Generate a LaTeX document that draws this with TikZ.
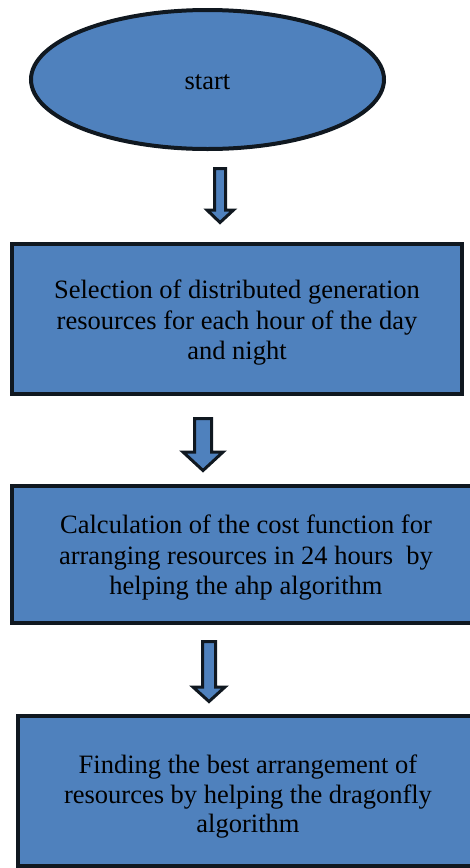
\documentclass[tikz,border=0pt]{standalone}
\usepackage{fontspec}
\setmainfont{Liberation Serif}
\usetikzlibrary{shapes.geometric}
\definecolor{fillblue}{HTML}{4F81BD}
\definecolor{edgedark}{HTML}{101820}
\tikzset{
  flowbox/.style={draw=edgedark, fill=fillblue, line width=4pt, rectangle, inner sep=0pt},
  boxtext/.style={align=center, inner sep=0pt, font=\fontsize{26.5}{30.5}\selectfont, text=black},
  startshape/.style={draw=edgedark, fill=fillblue, line width=4pt, ellipse, inner sep=0pt},
  blockarrow/.style={draw=edgedark, fill=fillblue, line width=3pt, line join=miter}
}
\begin{document}
\begin{tikzpicture}[x=1pt, y=-1pt]
\useasboundingbox (0,0) rectangle (470,868);
\clip (0,0) rectangle (470,868);
\fill[white] (0,0) rectangle (470,868);

\node[startshape, minimum width=353pt, minimum height=139pt] (start) at (207.5,79.5) {};
\node[boxtext] (starttxt) at ([yshift=-2.5pt]start.center) {start};

\node[flowbox, minimum width=450pt, minimum height=150pt] (b1) at (237,319) {};
\node[boxtext] (t1) at ([yshift=-4pt]b1.center)
  {Selection of distributed generation\\resources for each hour of the day\\and night};
\node[flowbox, minimum width=470pt, minimum height=137pt] (b2) at (247,554.5) {};
\node[boxtext] (t2) at ([xshift=-1pt,yshift=-3.5pt]b2.center)
  {Calculation of the cost function for\\arranging resources in 24 hours\ \ by\\helping the ahp algorithm};
\node[flowbox, minimum width=464pt, minimum height=150pt] (b3) at (250,791) {};
\node[boxtext, font=\fontsize{26.5}{29.5}\selectfont] (t3) at ([xshift=-2pt,yshift=-6pt]b3.center)
  {Finding the best arrangement of\\resources by helping the dragonfly\\algorithm};

% block arrows between the steps
\draw[blockarrow] (214.5,168.5) -- (225.5,168.5) -- (225.5,210) -- (233.5,210) -- (220,222.5)
  -- (207,210) -- (214.5,210) -- cycle;
\draw[blockarrow] (194.5,418.5) -- (211.5,418.5) -- (211.5,452) -- (223,452) -- (203,470.5)
  -- (183,452) -- (194.5,452) -- cycle;
\draw[blockarrow] (202.5,641.5) -- (215.5,641.5) -- (215.5,687) -- (225,687) -- (209,701.5)
  -- (193,687) -- (202.5,687) -- cycle;
\end{tikzpicture}
\end{document}
